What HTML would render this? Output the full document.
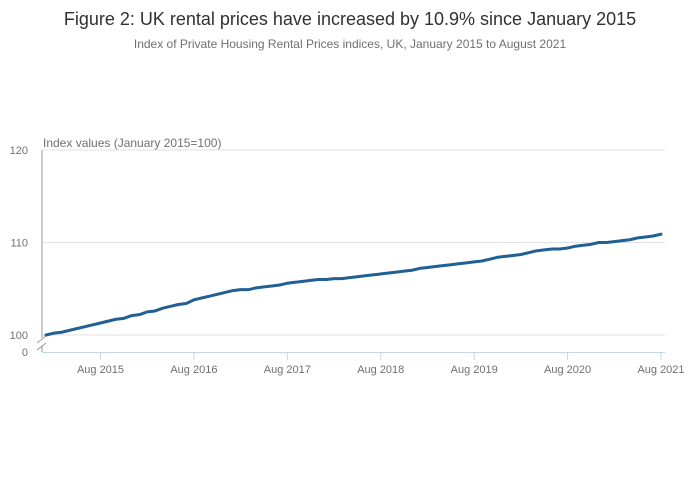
<!DOCTYPE html>
<html><head><meta charset="utf-8">
<style>
body{margin:0;background:#fff;font-family:"Liberation Sans",sans-serif;}
#wrap{position:relative;width:700px;height:502px;overflow:hidden;}
</style></head>
<body>
<div id="wrap">
<svg id="chart" width="700" height="502">
<text x="350" y="25" text-anchor="middle" font-size="18" fill="#323132">Figure 2: UK rental prices have increased by 10.9% since January 2015</text>
<text x="350" y="48" text-anchor="middle" font-size="12" fill="#707071">Index of Private Housing Rental Prices indices, UK, January 2015 to August 2021</text>
<text x="43" y="147" font-size="12" fill="#707071">Index values (January 2015=100)</text>
<g id="grid"></g>
<g id="axes"></g>
<g id="series"></g>
</svg>
</div>
<script>
const yTicks = [100, 110, 120];
const xTickLabels = ["Aug 2015","Aug 2016","Aug 2017","Aug 2018","Aug 2019","Aug 2020","Aug 2021"];
const xTickIndex = [7, 19, 31, 43, 55, 67, 79];
const values = [
100.0,100.2,100.3,100.5,100.7,100.9,101.1,101.3,
101.5,101.7,101.8,102.1,102.2,102.5,102.6,102.9,103.1,103.3,103.4,103.8,
104.0,104.2,104.4,104.6,104.8,104.9,104.9,105.1,105.2,105.3,105.4,105.6,
105.7,105.8,105.9,106.0,106.0,106.1,106.1,106.2,106.3,106.4,106.5,106.6,
106.7,106.8,106.9,107.0,107.2,107.3,107.4,107.5,107.6,107.7,107.8,107.9,
108.0,108.2,108.4,108.5,108.6,108.7,108.9,109.1,109.2,109.3,109.3,109.4,
109.6,109.7,109.8,110.0,110.0,110.1,110.2,110.3,110.5,110.6,110.7,110.9
];
const NS = "http://www.w3.org/2000/svg";
const x0 = 46, x1 = 661, left = 42, right = 665;
function xScale(i){ return x0 + (x1 - x0) * i / (values.length - 1); }
function yScale(v){ return 335 - (v - 100) * 9.25; }
function mk(tag, attrs, parent){
  const e = document.createElementNS(NS, tag);
  for (const k in attrs) e.setAttribute(k, attrs[k]);
  document.getElementById(parent).appendChild(e);
  return e;
}
yTicks.forEach(t => {
  const y = yScale(t);
  const l = mk("line", {x1: left, x2: right, y1: y, y2: y, stroke: "#e0e0e0", "stroke-width": 1}, "grid");
  
  
  const tx = mk("text", {x: 28, y: y + 4, "text-anchor": "end", "font-size": 11, fill: "#707071"}, "grid");
  tx.textContent = t;
  
  
});
const zero = mk("text", {x: 28, y: 356, "text-anchor": "end", "font-size": 11, fill: "#707071"}, "grid");
zero.textContent = "0";


const yAxis = mk("line", {x1: left, x2: left, y1: 150, y2: 338, stroke: "#999", "stroke-width": 1}, "axes");


const b1 = mk("path", {d: "M37,343 L46,336 M37,350 L46,343", stroke: "#999", "stroke-width": 1, fill: "none"}, "axes");


const yAxis2 = mk("line", {x1: left, x2: left, y1: 346, y2: 352, stroke: "#999", "stroke-width": 1}, "axes");


const xAxis = mk("line", {x1: left, x2: right, y1: 352.5, y2: 352.5, stroke: "#c5d5ea", "stroke-width": 1}, "axes");


xTickLabels.forEach((lab, k) => {
  const x = xScale(xTickIndex[k]);
  const t = mk("line", {x1: x, x2: x, y1: 352, y2: 360, stroke: "#c5d5ea", "stroke-width": 1}, "axes");
  
  
  const tx = mk("text", {x: x, y: 373, "text-anchor": "middle", "font-size": 11, fill: "#707071"}, "axes");
  tx.textContent = lab;
  
  
});
const d = values.map((v, i) => (i ? "L" : "M") + xScale(i).toFixed(2) + "," + yScale(v).toFixed(2)).join(" ");
const line = mk("path", {d: d, stroke: "#206095", "stroke-width": 3, fill: "none", "stroke-linejoin": "round", "stroke-linecap": "round"}, "series");


</script>
</body></html>
